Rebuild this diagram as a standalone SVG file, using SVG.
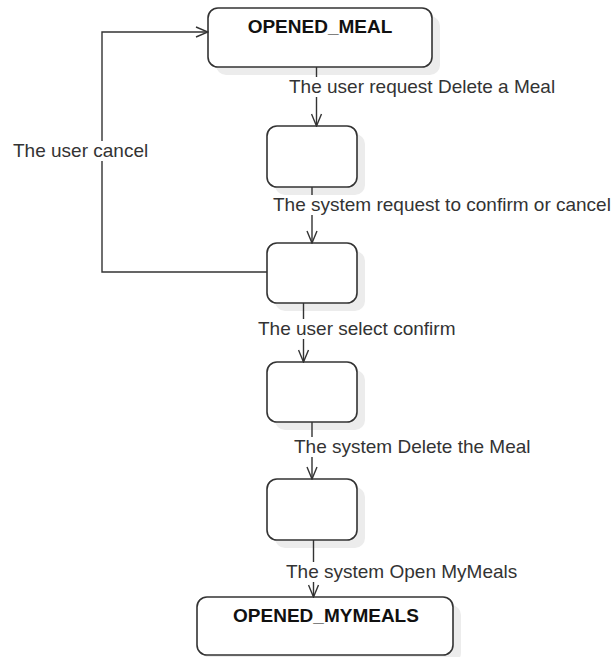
<svg xmlns="http://www.w3.org/2000/svg" width="616" height="657" viewBox="0 0 616 657">
  <style>
    .shadow { fill: #ececec; stroke: none; }
    .state { fill: #ffffff; stroke: #333333; stroke-width: 1.6; }
    .title { font-family: "Liberation Sans", Arial, sans-serif; font-size: 19px; font-weight: bold; fill: #111111; text-anchor: middle; }
    .edge { fill: none; stroke: #333333; stroke-width: 1.4; }
    .label { font-family: "Liberation Sans", Arial, sans-serif; font-size: 19px; fill: #333333; }
    .label-bg { fill: #ffffff; stroke: none; }
  </style>
  <defs>
    <marker id="open-arrow" viewBox="0 0 14 12" refX="13" refY="6" markerWidth="14" markerHeight="12" markerUnits="userSpaceOnUse" orient="auto">
      <path d="M1,1 L13,6 L1,11" fill="none" stroke="#333333" stroke-width="1.4"/>
    </marker>
  </defs>

  <rect width="616" height="657" fill="#ffffff"/>

  <!-- states -->
  <g id="opened-meal">
    <rect class="shadow" x="216" y="16" width="224" height="59" rx="10"/>
    <rect class="state" x="208" y="8" width="224" height="59" rx="10"/>
    <text class="title" x="320" y="33">OPENED_MEAL</text>
  </g>
  <g id="step-request">
    <rect class="shadow" x="275" y="134" width="90" height="61" rx="10"/>
    <rect class="state" x="267" y="126" width="90" height="61" rx="10"/>
  </g>
  <g id="step-confirm">
    <rect class="shadow" x="275" y="251" width="90" height="60" rx="10"/>
    <rect class="state" x="267" y="243" width="90" height="60" rx="10"/>
  </g>
  <g id="step-selected">
    <rect class="shadow" x="275" y="370" width="90" height="60" rx="10"/>
    <rect class="state" x="267" y="362" width="90" height="60" rx="10"/>
  </g>
  <g id="step-deleted">
    <rect class="shadow" x="275" y="487" width="90" height="61" rx="10"/>
    <rect class="state" x="267" y="479" width="90" height="61" rx="10"/>
  </g>
  <g id="opened-mymeals">
    <rect class="shadow" x="205" y="605" width="256" height="58" rx="10"/>
    <rect class="state" x="197" y="597" width="256" height="58" rx="10"/>
    <text class="title" x="326" y="622">OPENED_MYMEALS</text>
  </g>

  <!-- transitions -->
  <g id="connectors">
    <path class="edge" d="M316.5,67 V126" marker-end="url(#open-arrow)"/>
    <path class="edge" d="M312,187 V243" marker-end="url(#open-arrow)"/>
    <path class="edge" d="M303.5,303 V362" marker-end="url(#open-arrow)"/>
    <path class="edge" d="M312,422 V479" marker-end="url(#open-arrow)"/>
    <path class="edge" d="M313.5,540 V597" marker-end="url(#open-arrow)"/>
    <path class="edge" d="M267,272 H102 V32 H208" marker-end="url(#open-arrow)"/>

    <!-- label backgrounds hide the line behind each label -->
    <rect class="label-bg" x="288" y="77" width="268" height="20"/>
    <rect class="label-bg" x="272" y="195" width="340" height="20"/>
    <rect class="label-bg" x="257" y="319" width="199" height="20"/>
    <rect class="label-bg" x="293" y="437" width="238" height="20"/>
    <rect class="label-bg" x="285" y="562" width="234" height="20"/>
    <rect class="label-bg" x="12" y="141" width="138" height="20"/>

    <text class="label" x="289" y="93">The user request Delete a Meal</text>
    <text class="label" x="273" y="211">The system request to confirm or cancel</text>
    <text class="label" x="258" y="335">The user select confirm</text>
    <text class="label" x="294" y="453">The system Delete the Meal</text>
    <text class="label" x="286" y="578">The system Open MyMeals</text>
    <text class="label" x="13" y="157">The user cancel</text>
  </g>
</svg>
